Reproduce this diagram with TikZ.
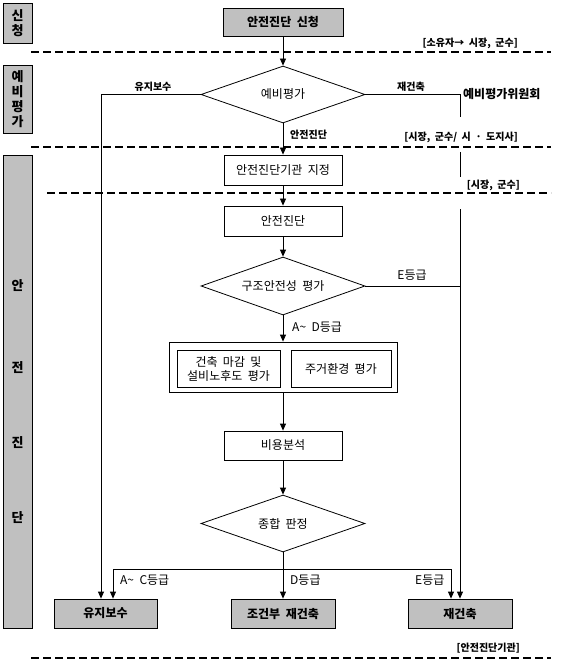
\documentclass[tikz,border=0pt]{standalone}
\usepackage{fontspec}
\setmainfont[WordSpace=2]{Noto Sans CJK KR}
\usetikzlibrary{shapes.geometric,arrows.meta}
\definecolor{boxgray}{HTML}{C0C0C0}
\begin{document}
\begin{tikzpicture}[x=1pt,y=-1pt,
  font=\fontsize{12}{14}\selectfont,
  every node/.style={inner sep=0pt},
  plain/.style={draw,line width=0.8pt,fill=white,align=center},
  grayb/.style={draw,line width=0.8pt,fill=boxgray,align=center,font=\fontsize{12}{14}\selectfont\bfseries},
  side/.style={draw,line width=0.8pt,fill=boxgray,minimum width=29pt,align=center,font=\fontsize{13}{15}\selectfont\bfseries},
  dia/.style={draw,line width=0.8pt,diamond,minimum width=164pt,minimum height=57pt,aspect=2.9},
  lab/.style={font=\fontsize{10}{12}\selectfont\bfseries},
  glab/.style={font=\fontsize{12}{14}\selectfont},
  conn/.style={line width=0.8pt},
  arr/.style={line width=0.8pt,-{Triangle[width=6pt,length=7pt]}},
  sep/.style={line width=2pt,dash pattern=on 8pt off 4pt}]
\useasboundingbox (0,0) rectangle (579,668);

% sidebars
\node[side,minimum height=40pt] (s1) at (17.5,23) {신\\청};
\node[side,minimum height=68pt] (s2) at (17.5,99) {예\\비\\평\\가};
\node[side,minimum height=473pt] (s3) at (17.5,391.5) {};
\node[font=\fontsize{13}{15}\selectfont\bfseries] (s3a) at (17.5,286) {안};
\node[font=\fontsize{13}{15}\selectfont\bfseries] (s3b) at (17.5,368) {전};
\node[font=\fontsize{13}{15}\selectfont\bfseries] (s3c) at (17.5,443) {진};
\node[font=\fontsize{13}{15}\selectfont\bfseries] (s3d) at (17.5,518) {단};

% main nodes
\node[grayb,minimum width=120pt,minimum height=28pt] (apply) at (283,22) {안전진단 신청};
\node[dia] (yebi) at (283,94.5) {예비평가};
\node[plain,minimum width=118pt,minimum height=30pt] (gigwan) at (283,170) {안전진단기관 지정};
\node[plain,minimum width=118pt,minimum height=30pt] (jindan) at (283,221) {안전진단};
\node[dia,minimum height=58pt] (gujo) at (283,286) {구조안전성 평가};
\node[plain,minimum width=228pt,minimum height=50pt] (outer) at (283,367) {};
\node[plain,minimum width=103pt,minimum height=37pt] (in1) at (228.5,368.5) {건축 마감 및\\설비노후도 평가};
\node[plain,minimum width=100pt,minimum height=37pt] (in2) at (341,368.5) {주거환경 평가};
\node[plain,minimum width=118pt,minimum height=29pt] (biyong) at (283,445.5) {비용분석};
\node[dia] (jong) at (283,523.5) {종합 판정};
\node[grayb,minimum width=103pt,minimum height=29pt] (yuji) at (105.5,613.5) {유지보수};
\node[grayb,minimum width=104pt,minimum height=29pt] (jokun) at (283,613.5) {조건부 재건축};
\node[grayb,minimum width=104pt,minimum height=29pt] (jae) at (460,613.5) {재건축};

% helper coordinates
\coordinate (lx) at (101,0);
\coordinate (rx) at (460,0);
\coordinate (rg1) at (460,117);
\coordinate (rg2) at (460,152);
\coordinate (rg3) at (460,177);
\coordinate (rg4) at (460,209);
\coordinate (hl) at (113,569);
\coordinate (hr) at (451,569);

% connectors
\draw[arr] (apply) -- (yebi.north);
\draw[arr] (yebi.south) -- (gigwan.north);
\draw[arr] (gigwan.south) -- (jindan.north);
\draw[arr] (jindan.south) -- (gujo.north);
\draw[arr] (gujo.south) -- (outer.north);
\draw[arr] (outer.south) -- (biyong.north);
\draw[arr] (biyong.south) -- (jong.north);
\draw[arr] (jong.south) -- (jokun.north);
\draw[conn] (hl) -- (hr);
\draw[arr] (hl) -- (yuji.north -| hl);
\draw[arr] (hr) -- (jae.north -| hr);
\draw[arr] (yebi.west) -| (yuji.north -| lx);
\draw[conn] (yebi.east) -| (rg1);
\draw[conn] (rg2) -- (rg3);
\draw[arr] (rg4) -- (jae.north);
\draw[conn] (gujo.east) -- (gujo.east -| rx);

% separators
\draw[sep] (31,52) -- (551,52);
\draw[sep] (31,147) -- (551,147);
\draw[sep] (47,193) -- (551,193);
\draw[sep] (31,658) -- (551,658);

% labels
\node[lab,anchor=east] (l1) at (518,43) {[소유자→ 시장, 군수]};
\node[lab] (l2) at (153,87) {유지보수};
\node[lab] (l3) at (411,87) {재건축};
\node[font=\fontsize{12}{14}\selectfont\bfseries,anchor=west] (l4) at (463,94) {예비평가위원회};
\node[lab,anchor=west] (l5) at (290,135) {안전진단};
\node[lab,anchor=east] (l6) at (518,137) {[시장, 군수/ 시 · 도지사]};
\node[lab,anchor=east] (l7) at (520,185) {[시장, 군수]};
\node[glab] (l8) at (412,275) {E등급};
\node[glab,anchor=west] (l9) at (292,327) {A\textasciitilde{} D등급};
\node[glab,anchor=west] (l10) at (120,580) {A\textasciitilde{} C등급};
\node[glab,anchor=west] (l11) at (290,580) {D등급};
\node[glab,anchor=west] (l12) at (415,580) {E등급};
\node[lab,anchor=east] (l13) at (520,648) {[안전진단기관]};
\end{tikzpicture}
\end{document}
